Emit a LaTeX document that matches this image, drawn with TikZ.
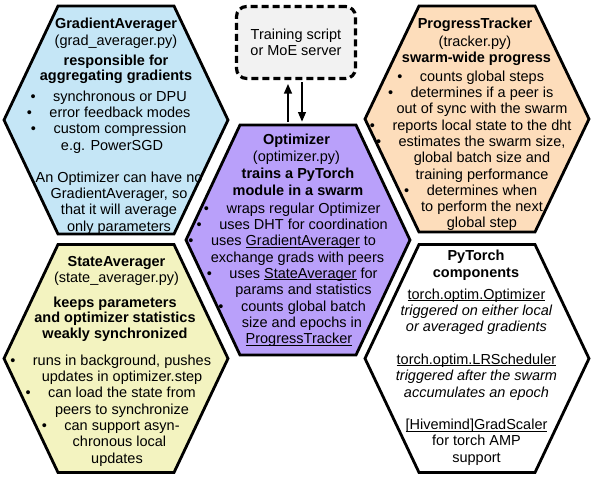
\documentclass[tikz,border=0pt]{standalone}
\usepackage{fontspec}
\setmainfont{Liberation Sans}
\usetikzlibrary{arrows.meta}
\definecolor{gacol}{RGB}{197,230,246}
\definecolor{ptcol}{RGB}{253,221,187}
\definecolor{optcol}{RGB}{185,160,250}
\definecolor{sacol}{RGB}{243,243,192}
\definecolor{boxcol}{RGB}{242,242,242}
\newcommand\bul{\llap{\textbullet\hspace{17.5pt}}}
\newcommand\undl[1]{\setbox0=\hbox{#1}\rlap{\rule[-1.8pt]{\wd0}{0.9pt}}\box0\relax}
\newcommand\fst{\vrule height 11pt depth 0pt width 0pt}
\newcommand\hexat[4]{\draw[hexa,fill=#4] ({#1-112},#2) -- ({#1-58},{#2-#3}) -- ({#1+58},{#2-#3}) -- ({#1+112},#2) -- ({#1+58},{#2+#3}) -- ({#1-58},{#2+#3}) -- cycle;}
\begin{document}
\begin{tikzpicture}[x=1pt,y=-1pt,
  hexa/.style={line width=2.8pt, draw=black},
  txt/.style={font=\fontsize{14.5}{16.3}\selectfont, align=center, inner sep=0pt, anchor=north},
  arr/.style={line width=2.5pt, -{Triangle[length=10pt,width=7.5pt]}},
  trainbox/.style={draw, line width=3.2pt, dash pattern=on 7pt off 4pt, rounded corners=10pt, fill=boxcol, minimum width=119pt, minimum height=72pt, inner sep=0pt, align=center, font=\fontsize{14.5}{16.3}\selectfont}]
\useasboundingbox (0,0) rectangle (595,480);
\fill[white] (0,0) rectangle (595,480);

% hexagons
\hexat{116}{120}{114}{gacol}
\hexat{477}{119}{113}{ptcol}
\hexat{298}{240}{115}{optcol}
\hexat{116}{358.5}{114}{sacol}
\hexat{477}{358.5}{114}{white}
\coordinate (opttop) at (298,125);

% training box
\node[trainbox] (train) at (296,42.5) {Training script\\or MoE server};
\draw[arr] ([xshift=-10pt,yshift=3pt]opttop) -- ([xshift=-8pt,yshift=-3.5pt]train.south);
\draw[arr] ([xshift=6pt,yshift=-2pt]train.south) -- ([xshift=4pt,yshift=3pt]opttop);

% GradientAverager
\node[txt] (ga1) at (116,17) {\fst\textbf{GradientAverager}\\[0.7pt](grad\_averager.py)};
\node[txt] (ga2) at (116,54) {\fst\textbf{responsible for}\\[-1.3pt]\textbf{aggregating gradients}};
\node[txt] (ga3) at (120,90) {\fst\bul synchronous or DPU\\
\bul error feedback modes\\
\bul custom compression\\
e.g. PowerSGD\kern16pt};
\node[txt] (ga4) at (119,171) {\fst An Optimizer can have no\\GradientAverager, so\\that it will average\\only parameters};

% ProgressTracker
\node[txt] (pt1) at (475,17) {\fst\textbf{ProgressTracker}\\[1.5pt](tracker.py)};
\node[txt] (pt2) at (476.5,51) {\fst\textbf{swarm-wide progress}};
\node[txt] (pt3) at (482,70) {\fst\bul counts global steps\\
\bul determines if a peer is\\
out of sync with the swarm\\
\bul reports local state to the dht\\
\bul estimates the swarm size,\\
global batch size and\\
training performance\\
\bul determines when\\
to perform the next\\
global step};

% Optimizer
\node[txt] (op1) at (296.5,133) {\fst\textbf{Optimizer}\\[0.7pt](optimizer.py)};
\node[txt] (op2) at (298,167) {\fst\textbf{trains a PyTorch}\\[0.7pt]\textbf{module in a swarm}};
\node[txt] (op3) at (303.5,202) {\fst\bul wraps regular Optimizer\\
\bul uses DHT for coordination\\
\bul uses \undl{GradientAverager} to\kern20pt\\
exchange grads with peers\kern12pt\\
\bul uses \undl{StateAverager} for\\
params and statistics\\
\bul counts global batch\\
size and epochs in\kern3pt\\
\undl{ProgressTracker}\kern9pt};

% StateAverager
\node[txt] (sa1) at (116.5,255) {\fst\textbf{StateAverager}\\[-0.3pt](state\_averager.py)};
\node[txt] (sa2) at (115,296) {\fst\textbf{keeps parameters}\\[-0.8pt]\textbf{and optimizer statistics}\\[-0.8pt]\textbf{weakly synchronized}};
\node[txt] (sa3) at (122,354) {\fst\bul runs in background, pushes\\
updates in optimizer.step\\
\bul can load the state from\\
peers to synchronize\\
\bul can support asyn-\\
chronous local\kern5pt\\
updates\kern10pt};

% PyTorch components
\node[txt] (py1) at (476,249) {\fst\textbf{PyTorch}\\[0.7pt]\textbf{components}};
\node[txt] (py2) at (476.5,288) {\fst\undl{torch.optim.Optimizer}\\
\textit{triggered on either local}\\
\textit{or averaged gradients}\\[16.3pt]
\undl{torch.optim.LRScheduler}\\
\textit{triggered after the swarm}\\
\textit{accumulates an epoch}\\[16.3pt]
\undl{[Hivemind]GradScaler}\\
for torch AMP\\
support};
\end{tikzpicture}
\end{document}
